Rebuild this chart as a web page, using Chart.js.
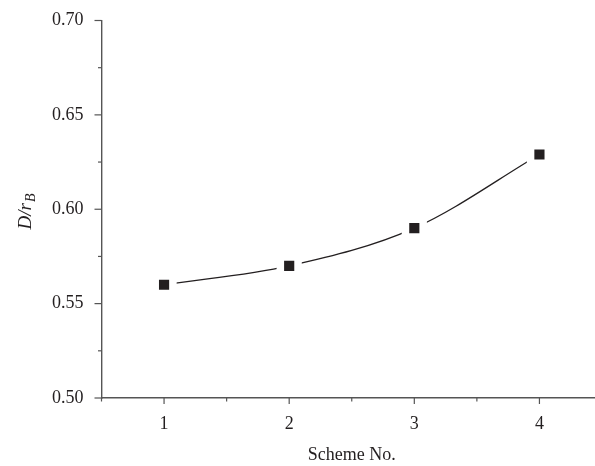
<!DOCTYPE html>
<html>
<head>
<meta charset="utf-8">
<script src="https://cdn.jsdelivr.net/npm/chart.js@4"></script>
<style>
  html, body { margin: 0; padding: 0; background: #fff; overflow: hidden; }
  #wrap { width: 602px; height: 466px; }
</style>
</head>
<body>
<div id="wrap"><canvas id="chart" width="602" height="466"></canvas></div>
<script>
const schemes = [1, 2, 3, 4];
const ratio = [0.56, 0.57, 0.59, 0.629];
const xTicks = [1, 2, 3, 4];
const yTicks = [0.50, 0.55, 0.60, 0.65, 0.70];

const ink = "#231f20";
const axisColor = "#555555";
const font = "'Liberation Serif', 'DejaVu Serif', serif";

// tick marks: long at labelled values, short in between
const tickMarks = {
  id: "tickMarks",
  afterDraw(chart) {
    const ctx = chart.ctx;
    const x = chart.scales.x, y = chart.scales.y;
    const left = chart.chartArea.left, bottom = chart.chartArea.bottom;
    ctx.save();
    ctx.strokeStyle = axisColor;
    ctx.lineWidth = 1.2;
    for (let v = 0.5; v <= 4.5; v += 0.5) {
      const px = x.getPixelForValue(v);
      const len = Number.isInteger(v) ? 6 : 3.5;
      ctx.beginPath();
      ctx.moveTo(px, bottom);
      ctx.lineTo(px, bottom + len);
      ctx.stroke();
    }
    for (let i = 0; i <= 8; i++) {
      const v = 0.5 + i * 0.025;
      const py = y.getPixelForValue(v);
      const len = i % 2 === 0 ? 7 : 3.5;
      ctx.beginPath();
      ctx.moveTo(left, py);
      ctx.lineTo(left - len, py);
      ctx.stroke();
    }
    ctx.restore();
  }
};

// rotated y title with subscript: D/r_B
const yTitle = {
  id: "yTitle",
  afterDraw(chart) {
    const ctx = chart.ctx;
    ctx.save();
    ctx.translate(31, 212);
    ctx.rotate(-Math.PI / 2);
    ctx.fillStyle = ink;
    ctx.textBaseline = "alphabetic";
    const main = "italic 19px " + font;
    const sub = "italic 14px " + font;
    ctx.font = main;
    const w1 = ctx.measureText("D/r").width;
    ctx.font = sub;
    const w2 = ctx.measureText("B").width;
    let sx = -(w1 + w2) / 2;
    ctx.font = main;
    ctx.fillText("D/r", sx, 0);
    ctx.font = sub;
    ctx.fillText("B", sx + w1 + 1, 4);
    ctx.restore();
  }
};

new Chart(document.getElementById("chart"), {
  type: "line",
  data: {
    datasets: [{
      data: schemes.map((s, i) => ({ x: s, y: ratio[i] })),
      borderColor: ink,
      borderWidth: 1.3,
      cubicInterpolationMode: "monotone",
      pointStyle: "rect",
      pointRadius: 12.5,
      pointBackgroundColor: ink,
      pointBorderColor: "#ffffff",
      pointBorderWidth: 7.5,
      clip: false
    }]
  },
  options: {
    responsive: false,
    animation: false,
    events: [],
    layout: { autoPadding: false, padding: { top: 20.5, right: 0, bottom: 0, left: 0 } },
    plugins: { legend: { display: false }, tooltip: { enabled: false } },
    scales: {
      x: {
        type: "linear",
        min: 0.5,
        max: 4.5,
        afterBuildTicks: s => { s.ticks = xTicks.map(v => ({ value: v })); },
        afterFit: s => { s.height = 68; s.paddingLeft = 0; s.paddingRight = 0; },
        grid: { drawOnChartArea: false, drawTicks: false },
        border: { color: axisColor, width: 1.4 },
        ticks: {
          color: ink,
          padding: 15,
          font: { family: font, size: 18 },
          callback: v => String(v)
        },
        title: {
          display: true,
          text: "Scheme No.",
          color: ink,
          font: { family: font, size: 18 },
          padding: { top: 5, bottom: 0 }
        }
      },
      y: {
        min: 0.5,
        max: 0.7,
        afterBuildTicks: s => { s.ticks = yTicks.map(v => ({ value: v })); },
        afterFit: s => { s.width = 101.5; s.paddingTop = 0; s.paddingBottom = 0; },
        grid: { drawOnChartArea: false, drawTicks: false },
        border: { color: axisColor, width: 1.4 },
        ticks: {
          color: ink,
          padding: 18,
          font: { family: font, size: 18 },
          callback: v => v.toFixed(2)
        }
      }
    }
  },
  plugins: [tickMarks, yTitle]
});
</script>
</body>
</html>
